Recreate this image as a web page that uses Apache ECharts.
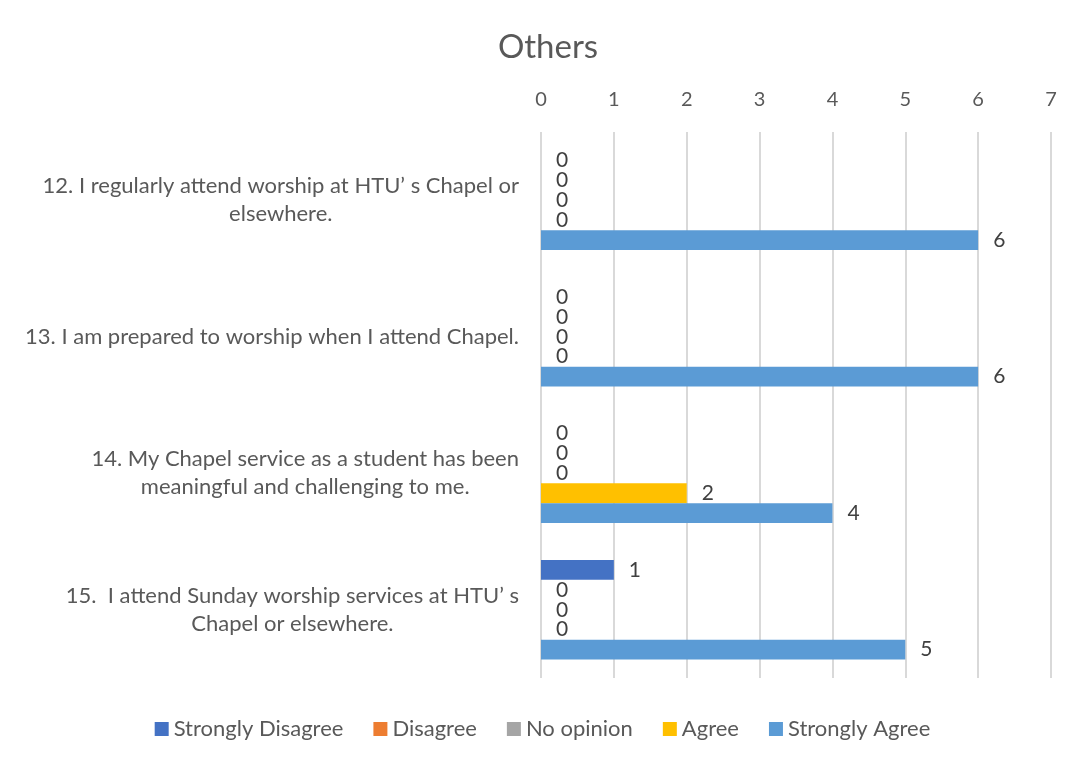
<!DOCTYPE html>
<html lang="en">
<head>
    <meta charset="UTF-8">
    <title>Others</title>
    <style>
      html, body { margin: 0; padding: 0; background: #fff; }
    </style>
</head>
<body>
    <div id="main" style="width: 1085px; height: 765px;"></div>
    <script src="https://cdn.jsdelivr.net/npm/echarts@6/dist/echarts.min.js"></script>
    <script>
      const categories = [
        '12. I regularly attend worship at HTU\u2019 s Chapel or\nelsewhere.',
        '13. I am prepared to worship when I attend Chapel.',
        '14. My Chapel service as a student has been\nmeaningful and challenging to me.',
        '15.  I attend Sunday worship services at HTU\u2019 s\nChapel or elsewhere.'
      ];
      const seriesNames = ['Strongly Disagree', 'Disagree', 'No opinion', 'Agree', 'Strongly Agree'];
      const colors = ['#4472C4', '#ED7D31', '#A5A5A5', '#FFC000', '#5B9BD5'];
      const stronglyDisagree = [0, 0, 0, 1];
      const disagree = [0, 0, 0, 0];
      const noOpinion = [0, 0, 0, 0];
      const agree = [0, 0, 2, 0];
      const stronglyAgree = [6, 6, 4, 5];
      const values = [stronglyDisagree, disagree, noOpinion, agree, stronglyAgree];

      var chartDom = document.getElementById('main');
      var myChart = echarts.init(chartDom);
      var font = 'Lato, "Open Sans", sans-serif';

      var option = {
        backgroundColor: '#fff',
        title: {
          text: 'Others',
          left: 543,
          textAlign: 'center',
          top: 26,
          textStyle: { fontFamily: font, fontSize: 33, fontWeight: 'normal', color: '#595959' }
        },
        legend: {
          data: seriesNames,
          bottom: 20,
          left: 'center',
          itemWidth: 14,
          itemHeight: 14,
          itemGap: 30,
          icon: 'rect',
          textStyle: { fontFamily: font, fontSize: 22, color: '#595959' }
        },
        grid: { left: 541, right: 34, top: 132, bottom: 87 },
        xAxis: {
          type: 'value',
          position: 'top',
          min: 0,
          max: 7,
          interval: 1,
          axisLine: { show: false },
          axisTick: { show: false },
          axisLabel: { fontFamily: font, fontSize: 20, color: '#595959', margin: 22 },
          splitLine: { lineStyle: { color: '#d9d9d9', width: 2 } }
        },
        yAxis: {
          type: 'category',
          inverse: true,
          data: categories,
          axisLine: { show: false },
          axisTick: { show: false },
          axisLabel: {
            margin: 22,
            formatter: function (v) {
              return v.split('\n').map(function (s) { return '{a|' + s + '}'; }).join('\n');
            },
            rich: {
              a: { fontFamily: font, fontSize: 22, color: '#595959', align: 'center', lineHeight: 28 }
            }
          }
        },
        series: seriesNames.map(function (name, i) {
          return {
            name: name,
            type: 'bar',
            barGap: 0,
            barCategoryGap: '27%',
            itemStyle: { color: colors[i] },
            label: {
              show: true,
              position: 'right',
              distance: 15,
              fontFamily: font,
              fontSize: 21,
              color: '#404040'
            },
            data: values[i]
          };
        })
      };

      option && myChart.setOption(option);
    </script>
</body>
</html>
